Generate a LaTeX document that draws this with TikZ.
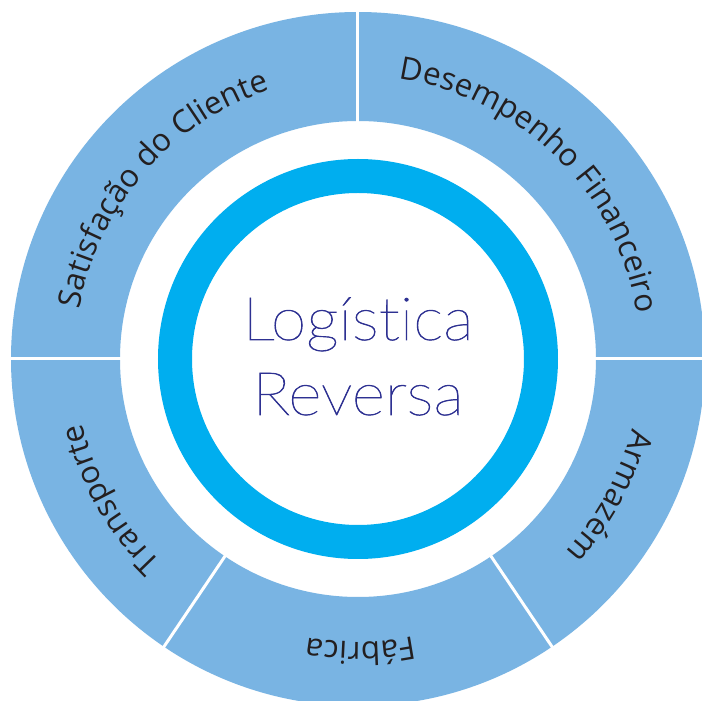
\documentclass[tikz,border=0pt]{standalone}
\usepackage{fontspec}
\usetikzlibrary{decorations.text}
\setmainfont{Open Sans}
\newfontfamily\sidefont{Open Sans}
\IfFontExistsTF{Lato Thin}{\newfontfamily\corefont{Lato Thin}[Ligatures=NoCommon,FakeBold=1]}{\newfontfamily\corefont{Lato Light}[Ligatures=NoCommon]}
\newcommand\sidestyle{\sidefont\fontsize{31.5pt}{38pt}\selectfont}
\definecolor{ringblue}{HTML}{79B4E3}
\definecolor{corecyan}{HTML}{00AEEF}
\definecolor{inkdark}{HTML}{231F20}
\definecolor{inkblue}{HTML}{2E3192}
\tikzset{
  sep/.style={draw=white, line width=3pt},
  arclabel/.style={decorate, decoration={text along path, text align=center, text color=inkdark, text={|\sidestyle|#1}}},
  coretext/.style={font=\corefont\fontsize{60pt}{72pt}\selectfont, text=inkblue, inner sep=0pt, anchor=base, xscale=1.07},
}
\begin{document}
\begin{tikzpicture}
\useasboundingbox (-358pt,-342pt) rectangle (344pt,359pt);
\fill[white] (-358pt,-342pt) rectangle (344pt,359pt);
\fill[ringblue, even odd rule] (0,0) circle[radius=347pt] (0,0) circle[radius=238pt];
\foreach \a in {0,90,180,236,304} \draw[sep] (\a:236pt) -- (\a:350pt);
\fill[corecyan, even odd rule] (0,0) circle[radius=200pt] (0,0) circle[radius=166pt];
\path[arclabel={Satisfação do Cliente}] (180:283pt) arc[start angle=180, end angle=98, radius=283pt];
\path[arclabel={Desempenho Financeiro}] (88:283pt) arc[start angle=88, end angle=3, radius=283pt];
\path[arclabel={Armazém}] (-1:283pt) arc[start angle=-1, end angle=-56, radius=283pt];
\path[arclabel={Fábrica}] (-57:283pt) arc[start angle=-57, end angle=-122, radius=283pt];
\path[arclabel={Transporte}] (237:283pt) arc[start angle=237, end angle=182, radius=283pt];
\node[coretext] (l1) at (0pt,19pt) {Logística};
\node[coretext] (l2) at (0pt,-56pt) {Reversa};
\end{tikzpicture}
\end{document}
